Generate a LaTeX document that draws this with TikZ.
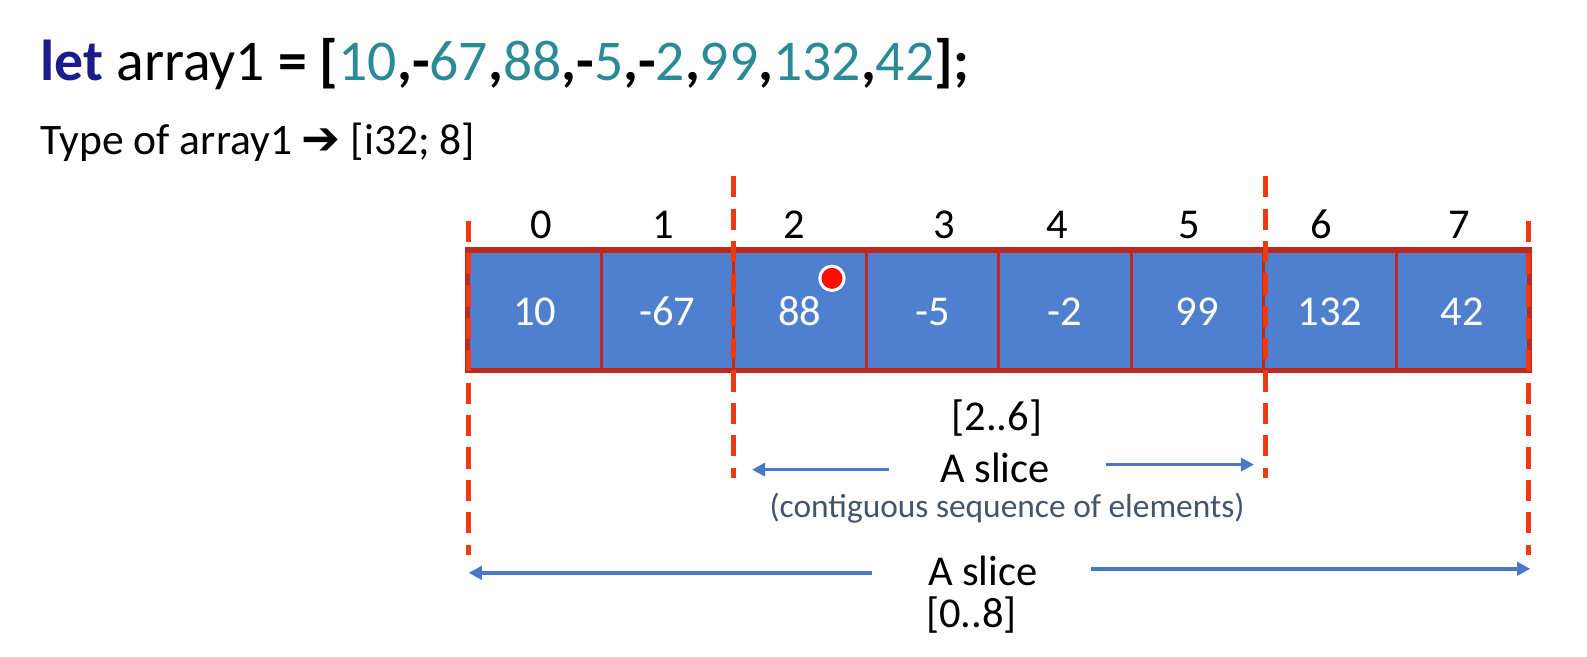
\documentclass[tikz,border=0pt]{standalone}
\usepackage{fontspec}
\setmainfont{Carlito}
\newfontfamily\dejavu{DejaVu Sans}
\usetikzlibrary{arrows.meta}
\definecolor{navy}{HTML}{1B1B8A}
\definecolor{tealnum}{HTML}{2A8A96}
\definecolor{cellfill}{HTML}{4F7FCF}
\definecolor{cellline}{HTML}{C0281C}
\definecolor{dashred}{HTML}{EE3A12}
\definecolor{arrowblue}{HTML}{4A78C8}
\definecolor{subgray}{HTML}{44546A}
\newcommand{\tn}[1]{{\color{tealnum}#1}}
\tikzset{
  cellbox/.style={draw=cellline, line width=3pt, fill=cellfill, minimum width=130.9pt, minimum height=117pt, inner sep=0pt},
  valtext/.style={anchor=base, inner sep=0pt, text=white, font=\fontsize{42}{46}\selectfont},
  idxlabel/.style={anchor=base, inner sep=0pt, font=\fontsize{42}{46}\selectfont},
  cutline/.style={draw=dashred, line width=5pt, dash pattern=on 21pt off 11pt},
  slicearrow/.style={draw=arrowblue, line width=3.5pt, -{Triangle[length=13pt,width=13pt]}},
  bigtext/.style={anchor=base, inner sep=0pt, font=\fontsize{42}{46}\selectfont},
}
\begin{document}
\begin{tikzpicture}[x=1pt,y=-1pt]
\useasboundingbox (0,0) rectangle (1568,648.2);
% title
\node[anchor=base west, inner sep=0pt, font=\fontsize{57}{62}\selectfont] (title) at (40,80)
 {\textbf{\color{navy}let} array1 \textbf{= [}\tn{10}\textbf{,-}\tn{67}\textbf{,}\tn{88}\textbf{,-}\tn{5}\textbf{,-}\tn{2}\textbf{,}\tn{99}\textbf{,}\tn{132}\textbf{,}\tn{42}\textbf{];}};
\node[anchor=base west, inner sep=0pt, font=\fontsize{43}{48}\selectfont] (type) at (40,153)
 {Type of array1 {\dejavu\bfseries\fontsize{46}{48}\selectfont ➔} [i32; 8]};
% cells
\foreach \v [count=\i from 0] in {10,-67,88,-5,-2,99,132,42}{
  \node[cellbox] (c\i) at ({463+130.9*(\i+0.5)},306.5) {};
  \node[valtext] (v\i) at (c\i.center |- 0,322) {\v};
}
\draw[draw=cellline, line width=4pt] (c0.north west) rectangle (c7.south east);
% indices
\foreach \x [count=\i from 0] in {535,655,785,933,1045,1175,1305,1442}{
  \node[idxlabel] (i\i) at (\x,236) {\i};
}
% pointer dot
\node[circle, fill=red!90!orange, draw=white, line width=3pt, minimum size=24pt, inner sep=0pt] (dot) at (822,275) {};
% dashed cut lines
\coordinate (d0t) at (463,218); \coordinate (d0b) at (463,548);
\coordinate (d2t) at (725,174); \coordinate (d2b) at (725,472);
\coordinate (d6t) at (1250,174); \coordinate (d6b) at (1250,472);
\coordinate (d8t) at (1510,218); \coordinate (d8b) at (1510,548);
\draw[cutline] (d0t) -- (d0b);
\draw[cutline] (d2t) -- (d2b);
\draw[cutline] (d6t) -- (d6b);
\draw[cutline] (d8t) -- (d8b);
% inner slice labels
\node[bigtext] (r26) at (985,425) {[2..6]};
\node[bigtext] (s26) at (983,477) {A slice};
\node[anchor=base, inner sep=0pt, text=subgray, font=\fontsize{33}{36}\selectfont] (sub) at (995,511) {(contiguous sequence of elements)};
\coordinate (a1l) at (878,464); \coordinate (a1le) at (743,464);
\coordinate (a1r) at (1093,459); \coordinate (a1re) at (1239,459);
\draw[slicearrow] (a1l) -- (a1le);
\draw[slicearrow] (a1r) -- (a1re);
% outer slice labels
\node[bigtext] (s08) at (971,578) {A slice};
\node[bigtext] (r08) at (960,620) {[0..8]};
\coordinate (a2l) at (862,566); \coordinate (a2le) at (463,566);
\coordinate (a2r) at (1078,562); \coordinate (a2re) at (1512,562);
\draw[slicearrow] (a2l) -- (a2le);
\draw[slicearrow] (a2r) -- (a2re);
\end{tikzpicture}
\end{document}
